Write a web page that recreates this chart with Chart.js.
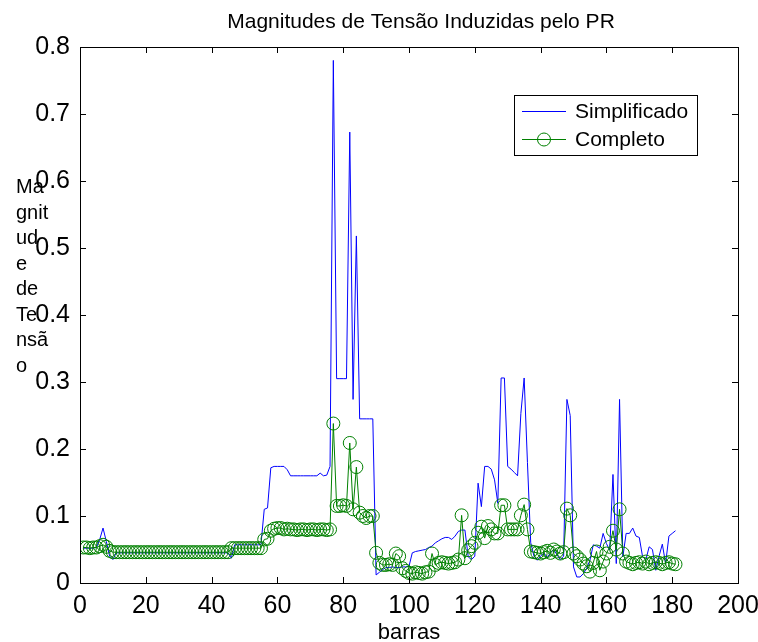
<!DOCTYPE html>
<html>
<head>
<meta charset="utf-8">
<script src="https://cdn.jsdelivr.net/npm/chart.js@4.4.1/dist/chart.umd.min.js"></script>
<style>
  body { margin: 0; background: #fff; }
</style>
</head>
<body>
<canvas id="grafico" width="758" height="642"></canvas>
<script>
// indices das barras (1..181)
const barras = Array.from({ length: 181 }, (_, i) => i + 1);

const simplificado = [
  0.052, 0.052, 0.052, 0.052, 0.053, 0.065, 0.082, 0.062, 0.040, 0.035,
  0.045, 0.045, 0.045, 0.045, 0.045, 0.045, 0.045, 0.045, 0.045, 0.045,
  0.045, 0.045, 0.045, 0.045, 0.045, 0.045, 0.045, 0.045, 0.045, 0.045,
  0.045, 0.045, 0.045, 0.045, 0.045, 0.045, 0.045, 0.045, 0.045, 0.045,
  0.045, 0.045, 0.045, 0.045, 0.045, 0.037, 0.057, 0.057, 0.057, 0.057,
  0.057, 0.057, 0.057, 0.057, 0.057, 0.110, 0.112, 0.172, 0.174, 0.174,
  0.174, 0.174, 0.169, 0.160, 0.160, 0.160, 0.160, 0.160, 0.160, 0.160,
  0.160, 0.160, 0.164, 0.160, 0.161, 0.174, 0.780, 0.305, 0.305, 0.305,
  0.305, 0.673, 0.274, 0.518, 0.245, 0.245, 0.245, 0.245, 0.245, 0.012,
  0.016, 0.020, 0.023, 0.023, 0.024, 0.023, 0.023, 0.024, 0.024, 0.025,
  0.045, 0.047, 0.048, 0.049, 0.050, 0.053, 0.055, 0.060, 0.063, 0.066,
  0.068, 0.068, 0.065, 0.070, 0.077, 0.079, 0.079, 0.039, 0.035, 0.040,
  0.149, 0.114, 0.174, 0.174, 0.170, 0.154, 0.119, 0.306, 0.306, 0.174,
  0.170, 0.165, 0.160, 0.253, 0.306, 0.180, 0.060, 0.040, 0.034, 0.040,
  0.045, 0.038, 0.045, 0.050, 0.042, 0.035, 0.040, 0.274, 0.250, 0.024,
  0.009, 0.009, 0.014, 0.022, 0.034, 0.057, 0.055, 0.052, 0.074, 0.059,
  0.049, 0.162, 0.029, 0.274, 0.039, 0.074, 0.074, 0.082, 0.070, 0.068,
  0.039, 0.035, 0.054, 0.050, 0.019, 0.040, 0.058, 0.029, 0.070, 0.074,
  0.078
];

const completo = [
  0.053, 0.053, 0.052, 0.053, 0.053, 0.055, 0.057, 0.054, 0.048, 0.046,
  0.046, 0.046, 0.046, 0.046, 0.046, 0.046, 0.046, 0.046, 0.046, 0.046,
  0.046, 0.046, 0.046, 0.046, 0.046, 0.046, 0.046, 0.046, 0.046, 0.046,
  0.046, 0.046, 0.046, 0.046, 0.046, 0.046, 0.046, 0.046, 0.046, 0.046,
  0.046, 0.046, 0.046, 0.046, 0.046, 0.052, 0.052, 0.052, 0.052, 0.052,
  0.052, 0.052, 0.052, 0.052, 0.052, 0.065, 0.066, 0.078, 0.081, 0.082,
  0.082, 0.080, 0.081, 0.080, 0.080, 0.079, 0.080, 0.080, 0.079, 0.080,
  0.080, 0.079, 0.080, 0.080, 0.079, 0.080, 0.238, 0.115, 0.115, 0.116,
  0.115, 0.209, 0.110, 0.173, 0.105, 0.100, 0.097, 0.100, 0.100, 0.045,
  0.030, 0.027, 0.027, 0.028, 0.027, 0.044, 0.040, 0.022, 0.018, 0.015,
  0.014, 0.016, 0.015, 0.014, 0.016, 0.017, 0.044, 0.027, 0.030, 0.031,
  0.030, 0.029, 0.030, 0.031, 0.035, 0.101, 0.037, 0.049, 0.055, 0.060,
  0.075, 0.084, 0.067, 0.085, 0.080, 0.074, 0.074, 0.116, 0.116, 0.080,
  0.080, 0.080, 0.080, 0.101, 0.117, 0.080, 0.047, 0.046, 0.045, 0.044,
  0.046, 0.048, 0.045, 0.050, 0.047, 0.044, 0.046, 0.111, 0.101, 0.044,
  0.040, 0.035, 0.029, 0.025, 0.017, 0.030, 0.047, 0.019, 0.032, 0.044,
  0.054, 0.078, 0.050, 0.110, 0.044, 0.032, 0.030, 0.028, 0.030, 0.031,
  0.029, 0.032, 0.028, 0.030, 0.031, 0.030, 0.028, 0.030, 0.031, 0.029,
  0.028
];

const xTicks = [0, 20, 40, 60, 80, 100, 120, 140, 160, 180, 200];
const yTicks = [0, 0.1, 0.2, 0.3, 0.4, 0.5, 0.6, 0.7, 0.8];

const titulo = 'Magnitudes de Tensão Induzidas pelo PR';
const rotuloY = ['Ma', 'gnit', 'ud', 'e', 'de', 'Te', 'nsã', 'o'];
const rotuloX = 'barras';

const fonte = "'Liberation Sans', Arial, Helvetica, sans-serif";
Chart.defaults.font.family = fonte;
Chart.defaults.color = '#000';

// caixa dos eixos, ticks para dentro, titulo, rotulo vertical e legenda (estilo matlab)
const estiloMatlab = {
  id: 'estiloMatlab',
  afterDraw(chart) {
    const ctx = chart.ctx;
    const a = chart.chartArea;
    const sx = chart.scales.x, sy = chart.scales.y;
    ctx.save();
    ctx.strokeStyle = '#000';
    ctx.lineWidth = 1;
    ctx.strokeRect(Math.round(a.left) + 0.5, Math.round(a.top) + 0.5,
      Math.round(a.right - a.left), Math.round(a.bottom - a.top));
    ctx.beginPath();
    xTicks.forEach(v => {
      const px = Math.round(sx.getPixelForValue(v)) + 0.5;
      ctx.moveTo(px, a.bottom); ctx.lineTo(px, a.bottom - 6);
      ctx.moveTo(px, a.top); ctx.lineTo(px, a.top + 6);
    });
    yTicks.forEach(v => {
      const py = Math.round(sy.getPixelForValue(v)) + 0.5;
      ctx.moveTo(a.left, py); ctx.lineTo(a.left + 6, py);
      ctx.moveTo(a.right, py); ctx.lineTo(a.right - 6, py);
    });
    ctx.stroke();

    ctx.fillStyle = '#000';
    ctx.font = '21px ' + fonte;
    ctx.textAlign = 'center';
    ctx.textBaseline = 'middle';
    ctx.fillText(titulo, 421, 22);

    ctx.font = '20px ' + fonte;
    ctx.textAlign = 'left';
    ctx.textBaseline = 'alphabetic';
    rotuloY.forEach((t, i) => ctx.fillText(t, 16, 193 + i * 25.5));

    // legenda
    ctx.fillStyle = '#fff';
    ctx.fillRect(514.5, 95.5, 183, 60);
    ctx.strokeRect(514.5, 95.5, 183, 60);
    ctx.font = '21px ' + fonte;
    const ds = chart.data.datasets;
    const linhas = [111, 139];
    ds.forEach((d, i) => {
      const y = linhas[i];
      ctx.strokeStyle = d.borderColor;
      ctx.beginPath();
      ctx.moveTo(522, y + 0.5); ctx.lineTo(566, y + 0.5);
      ctx.stroke();
      if (d.pointRadius > 0) {
        ctx.beginPath();
        ctx.arc(544, y + 0.5, d.pointRadius, 0, Math.PI * 2);
        ctx.stroke();
      }
      ctx.fillStyle = '#000';
      ctx.textBaseline = 'middle';
      ctx.fillText(d.label, 575, y + 1);
    });
    ctx.restore();
  }
};

new Chart(document.getElementById('grafico').getContext('2d'), {
  type: 'line',
  data: {
    datasets: [
      {
        label: 'Simplificado',
        data: barras.map((b, i) => ({ x: b, y: simplificado[i] })),
        borderColor: '#0000ff',
        borderWidth: 1,
        pointRadius: 0,
        tension: 0,
        order: 2
      },
      {
        label: 'Completo',
        data: barras.map((b, i) => ({ x: b, y: completo[i] })),
        borderColor: '#008000',
        borderWidth: 1,
        pointRadius: 6.5,
        pointStyle: 'circle',
        pointBackgroundColor: 'rgba(0,0,0,0)',
        pointBorderColor: '#008000',
        pointBorderWidth: 1,
        tension: 0,
        order: 1
      }
    ]
  },
  options: {
    responsive: false,
    animation: false,
    layout: { padding: { left: 0, right: 20, top: 47, bottom: 0 } },
    plugins: { legend: { display: false }, tooltip: { enabled: false } },
    scales: {
      x: {
        type: 'linear',
        min: 0,
        max: 200,
        afterBuildTicks: s => { s.ticks = xTicks.map(v => ({ value: v })); },
        afterFit: s => { s.height = 59; s.paddingLeft = 0; s.paddingRight = 0; },
        grid: { display: false, drawTicks: false },
        border: { display: false },
        ticks: { padding: 8, maxRotation: 0, font: { size: 25 } },
        title: { display: true, text: rotuloX, padding: { top: 0, bottom: -4 }, font: { size: 22 } }
      },
      y: {
        type: 'linear',
        min: 0,
        max: 0.8,
        afterBuildTicks: s => { s.ticks = yTicks.map(v => ({ value: v })); },
        afterFit: s => { s.width = 80; s.paddingTop = 0; s.paddingBottom = 0; },
        grid: { display: false, drawTicks: false },
        border: { display: false },
        ticks: { padding: 10, font: { size: 25 } }
      }
    }
  },
  plugins: [estiloMatlab]
});
</script>
</body>
</html>
